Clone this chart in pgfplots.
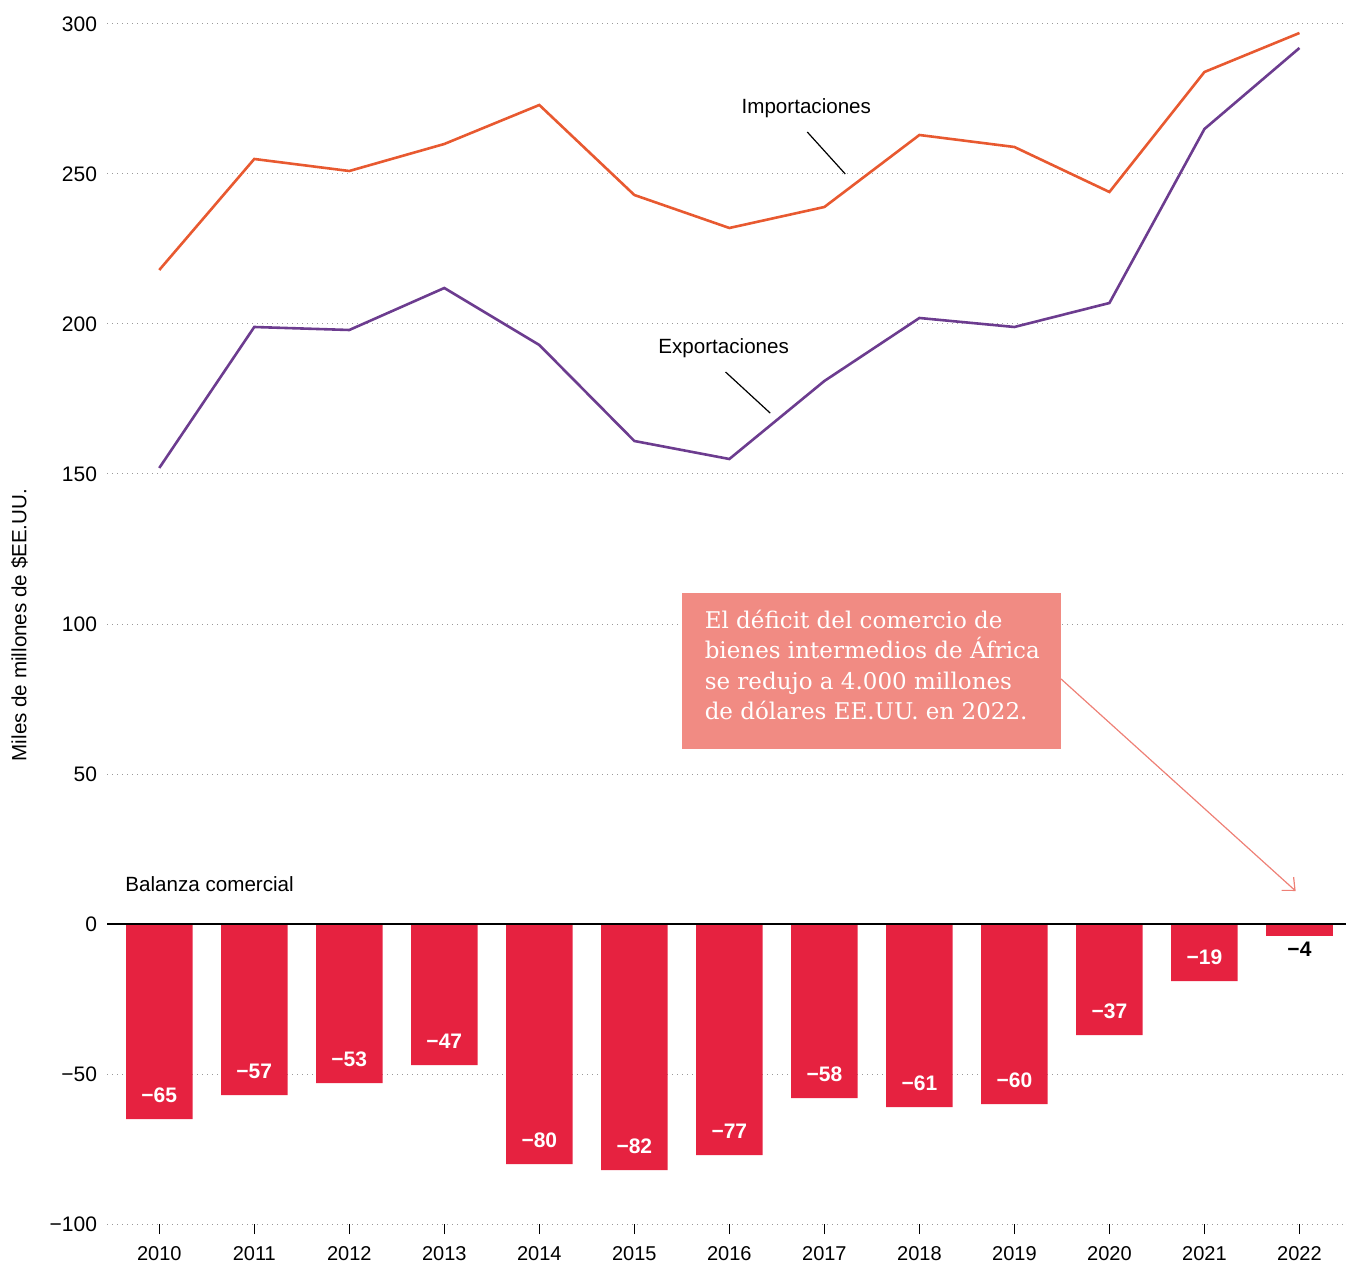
\documentclass[border=0pt]{standalone}
\usepackage{fontspec}
\setmainfont{Liberation Sans}
\newfontfamily\slab{DejaVu Serif}
\usepackage{pgfplots}
\usepackage{pgfplotstable}
\pgfplotsset{compat=1.18}
\usetikzlibrary{arrows.meta}
\definecolor{impcol}{RGB}{232,89,48}
\definecolor{expcol}{RGB}{108,60,143}
\definecolor{barcol}{RGB}{230,34,64}
\definecolor{notecol}{RGB}{241,139,131}
\definecolor{arrowcol}{RGB}{238,128,118}

% Importaciones / Exportaciones (miles de millones de $EE.UU.)
\pgfplotstableread{
year imp exp
2010 218 152
2011 255 199
2012 251 198
2013 260 212
2014 273 193
2015 243 161
2016 232 155
2017 239 181
2018 263 202
2019 259 199
2020 244 207
2021 284 265
2022 297 292
}\flows

% Balanza comercial
\pgfplotstableread{
year val lab
2010 -65 −65
2011 -57 −57
2012 -53 −53
2013 -47 −47
2014 -80 −80
2015 -82 −82
2016 -77 −77
2017 -58 −58
2018 -61 −61
2019 -60 −60
2020 -37 −37
2021 -19 −19
}\balance

\begin{document}
\begin{tikzpicture}
\begin{axis}[
    scale only axis,
    width=619.5pt, height=612pt,
    xmin=2009.45, xmax=2022.49,
    ymin=-100, ymax=308,
    axis line style={draw=none},
    xtick={2010,2011,2012,2013,2014,2015,2016,2017,2018,2019,2020,2021,2022},
    xticklabels={2010,2011,2012,2013,2014,2015,2016,2017,2018,2019,2020,2021,2022},
    ytick={-100,-50,0,50,100,150,200,250,300},
    yticklabels={−100,−50,0,50,100,150,200,250,300},
    xtick pos=bottom,
    tick align=outside,
    major tick length=5pt,
    xtick style={black, line width=0.6pt},
    ytick style={draw=none},
    ymajorgrids,
    grid style={gray!80, line width=0.5pt, dash pattern=on 0.5pt off 2pt},
    x tick label style={font=\fontsize{10}{12}\selectfont, yshift=-2.5pt},
    y tick label style={font=\fontsize{10.5}{12}\selectfont, xshift=3.5pt},
    ylabel={Miles de millones de \$EE.UU.},
    ylabel style={font=\fontsize{10.3}{12}\selectfont, yshift=4pt, xshift=-6.5pt},
    clip=false,
]
% bars
\addplot[ybar, bar width=0.7, bar shift=0pt, fill=barcol, draw=none,
    point meta=explicit symbolic, nodes near coords,
    every node near coord/.style={anchor=center, yshift=12pt, text=white,
        font=\bfseries\fontsize{10.5}{12}\selectfont}]
    table[x=year, y=val, meta=lab] {\balance};
\addplot[ybar, bar width=0.7, bar shift=0pt, fill=barcol, draw=none,
    point meta=explicit symbolic, nodes near coords,
    every node near coord/.style={anchor=center, yshift=-6.5pt, text=black,
        font=\bfseries\fontsize{10.5}{12}\selectfont}]
    coordinates {(2022,-4) [−4]};
% zero line
\addplot[black, line width=1pt] coordinates {(2009.45,0) (2022.49,0)};
% lines
\addplot[impcol, line width=1.3pt] table[x=year, y=imp] {\flows};
\addplot[expcol, line width=1.3pt] table[x=year, y=exp] {\flows};
% labels
\node[font=\fontsize{10.3}{12}\selectfont] at (axis cs:2016.81,272) {Importaciones};
\draw[line width=0.6pt] (axis cs:2016.82,264) -- (axis cs:2017.22,250);
\node[font=\fontsize{10.3}{12}\selectfont] at (axis cs:2015.94,192) {Exportaciones};
\draw[line width=0.6pt] (axis cs:2015.96,184) -- (axis cs:2016.43,170.3);
\node[font=\fontsize{10.3}{12}\selectfont, anchor=west, inner sep=0pt] at (axis cs:2009.64,13.3) {Balanza comercial};
% note
\fill[notecol] (axis cs:2015.505,110.3) rectangle (axis cs:2019.495,58.3);
\node[anchor=north west, inner sep=0pt, align=left, text=white,
    font=\slab\fontsize{11.5}{15.25}\selectfont] at (axis cs:2015.737,104.9)
    {El déficit del comercio de\\bienes intermedios de África\\se redujo a 4.000 millones\\de dólares EE.UU. en 2022.};
\draw[arrowcol, line width=0.6pt, -{Straight Barb[length=5pt, width=9pt]}]
    (axis cs:2019.49,81.7) -- (axis cs:2021.96,11);
\end{axis}
\pgfresetboundingbox
\useasboundingbox ([shift={(-53.5pt,-20pt)}]current axis.south west) rectangle (current axis.north east);
\end{tikzpicture}
\end{document}
